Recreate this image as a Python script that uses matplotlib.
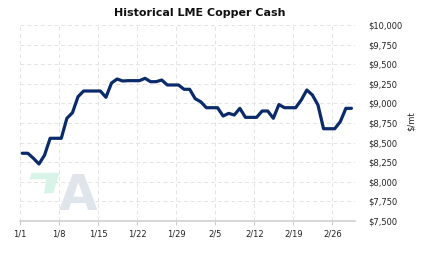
import numpy as np
import matplotlib
matplotlib.use("Agg")
import matplotlib.pyplot as plt
from matplotlib.patches import Polygon

# Daily LME copper cash price (USD/mt), day 0 = Jan 1
prices = [8364, 8364, 8300, 8227, 8340, 8555, 8555, 8555, 8810, 8881,
          9086, 9158, 9158, 9158, 9158, 9078, 9260, 9311, 9286, 9290,
          9290, 9290, 9320, 9277, 9277, 9298, 9235, 9235, 9235, 9180,
          9180, 9060, 9020, 8945, 8945, 8945, 8839, 8873, 8852, 8937,
          8822, 8822, 8822, 8903, 8903, 8810, 8985, 8945, 8945, 8945,
          9043, 9171, 9107, 8980, 8677, 8677, 8677, 8767, 8937, 8937]
tick_days = [0, 7, 14, 21, 28, 35, 42, 49, 56]
tick_labels = ["1/1", "1/8", "1/15", "1/22", "1/29", "2/5", "2/12", "2/19", "2/26"]
y_ticks = [7500, 7750, 8000, 8250, 8500, 8750, 9000, 9250, 9500, 9750, 10000]

days = np.arange(len(prices)) + 0.4

fig = plt.figure(figsize=(4.23, 2.57), dpi=100)
fig.patch.set_facecolor("white")
ax = fig.add_axes([20 / 423, 1 - 221 / 257, (354.8 - 20) / 423, (221 - 25) / 257])

# watermark (pixel coords, top-left origin, converted to figure coords)
verts = np.array([(31.7, 172.7), (59.3, 172.7), (53.3, 193.3), (44.0, 193.3),
                  (46.0, 179.3), (29.3, 179.3)])
fv = np.column_stack([verts[:, 0] / 423, 1 - verts[:, 1] / 257])
green = Polygon(fv, closed=True, transform=fig.transFigure,
                facecolor="#d8f4e8", edgecolor="none", zorder=0)
fig.patches.append(green)
fig.text(78 / 423, 1 - 209.5 / 257, "A", fontsize=36, fontweight="bold",
         color="#e0e4eb", ha="center", va="baseline", zorder=0)
ax.patch.set_alpha(0)

ax.plot(days, prices, color="#0a2a6a", lw=2.3, solid_joinstyle="round",
        solid_capstyle="round", zorder=3)

ax.set_xlim(0, 60)
ax.set_ylim(7500, 10000)
ax.set_xticks(tick_days)
ax.set_xticklabels(tick_labels)
ax.set_yticks(y_ticks)
ax.set_yticklabels(["${:,}".format(v) for v in y_ticks])
ax.yaxis.tick_right()
ax.yaxis.set_label_position("right")
ax.tick_params(axis="y", length=0, pad=9.5, labelsize=6, colors="#222222")
ax.tick_params(axis="x", length=3, width=0.8, color="#cccccc", pad=3,
               labelsize=6, labelcolor="#222222")
for lab in ax.get_yticklabels():
    lab.set_ha("left")

ax.grid(True, color="#e4e4e4", linestyle=(0, (4, 3)), linewidth=0.7)
ax.set_axisbelow(True)
for s in ["top", "right", "left"]:
    ax.spines[s].set_visible(False)
ax.spines["bottom"].set_color("#d0d0d0")
ax.spines["bottom"].set_linewidth(1.2)

fig.text(411 / 423, 1 - 121 / 257, "$/mt", rotation=90, fontsize=6,
         color="#222222", ha="center", va="center")
fig.text(200 / 423, 1 - 13 / 257, "Historical LME Copper Cash", fontsize=8,
         fontweight="bold", color="#111111", ha="center", va="center")

fig.savefig("out.png", dpi=100, facecolor="white")
